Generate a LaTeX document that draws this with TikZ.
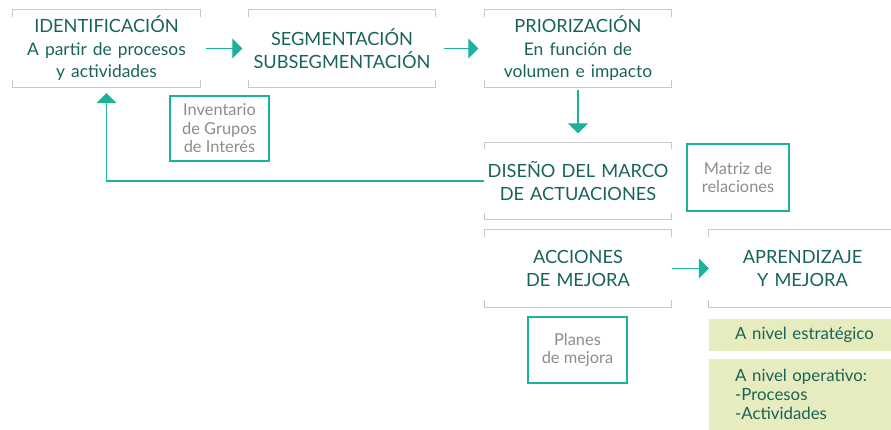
\documentclass[tikz,border=0pt]{standalone}
\usepackage{fontspec}
\setmainfont{Lato}
\usetikzlibrary{arrows.meta}
\definecolor{txt}{HTML}{17635A}
\definecolor{arr}{HTML}{1BB29A}
\definecolor{gline}{HTML}{C8C8C8}
\definecolor{gtxt}{HTML}{8C8C8C}
\definecolor{gfill}{HTML}{E6ECBE}
\newcommand\brackbox[1]{%
  \draw[bline] ([yshift=-7pt]#1.north west) -- (#1.north west) -- (#1.north east) -- ([yshift=-7pt]#1.north east);
  \draw[bline] ([yshift=7pt]#1.south west) -- (#1.south west) -- (#1.south east) -- ([yshift=7pt]#1.south east);
}
\newcommand\subt{\fontsize{17.4}{22}\selectfont}
\begin{document}
\begin{tikzpicture}[x=1pt,y=-1pt,
  stepbox/.style={minimum width=187pt,minimum height=77pt,text width=185pt,align=center,
    text=txt,font=\fontsize{18.2}{22.5}\selectfont,inner sep=0pt},
  sidebox/.style={draw=arr,line width=1.2pt,minimum width=99pt,minimum height=65pt,
    align=center,text=gtxt,font=\fontsize{16.4}{18.5}\selectfont,inner sep=0pt},
  notebox/.style={fill=gfill,minimum width=187pt,text width=150pt,inner xsep=26pt,
    inner ysep=0pt,align=left,text=txt,font=\fontsize{16.8}{19}\selectfont,anchor=north west},
  conn/.style={draw=arr,line width=1.2pt,-{Bar[width=0pt,line width=0pt,sep=#1]Triangle[length=10pt,width=20pt]}},
  conn/.default=2pt,
  bline/.style={draw=gline,line width=1.2pt}
]
\useasboundingbox (0,0) rectangle (891,430);
\clip (0,0) rectangle (891,430);

\node[stepbox] (ident) at (106.5,48.5) {IDENTIFICACIÓN\\{\subt A partir de procesos}\\{\subt y actividades}};
\node[stepbox] (seg) at (342,48.5) {SEGMENTACIÓN\\SUBSEGMENTACIÓN};
\node[stepbox] (prior) at (578,48.5) {PRIORIZACIÓN\\{\subt En función de}\\{\subt volumen e impacto}};
\node[stepbox] (dis) at (578,181) {DISEÑO DEL MARCO\\DE ACTUACIONES};
\node[stepbox] (acc) at (578,268.5) {ACCIONES\\DE MEJORA};
\node[stepbox] (apr) at (802.5,268.5) {APRENDIZAJE\\Y MEJORA};
\foreach \n in {ident,seg,prior,dis,acc,apr} {\brackbox{\n}}

\node[sidebox] (inv) at (219.5,128.5) {Inventario\\de Grupos\\de Interés};
\node[sidebox, minimum width=102pt, minimum height=67pt] (mat) at (738,177.5) {Matriz de\\relaciones};
\node[sidebox, minimum height=66pt] (plan) at (577.5,350) {Planes\\de mejora};

\node[notebox, minimum height=32pt] (est) at (709,319) {A nivel estratégico};
\node[notebox, minimum height=71pt, inner ysep=6pt] (ope) at (709,359) {A nivel operativo:\\-Procesos\\-Actividades};

\draw[conn, shorten <=6pt, shorten >=6pt] (ident) -- (seg);
\draw[conn, shorten <=8pt, shorten >=6pt] (seg) -- (prior);
\draw[conn=5pt, shorten <=3pt, shorten >=9pt] (prior) -- (dis);
\draw[conn=6pt, shorten >=6pt] (dis.west) -| (ident.south);
\draw[conn] (acc) -- (apr);
\end{tikzpicture}
\end{document}
